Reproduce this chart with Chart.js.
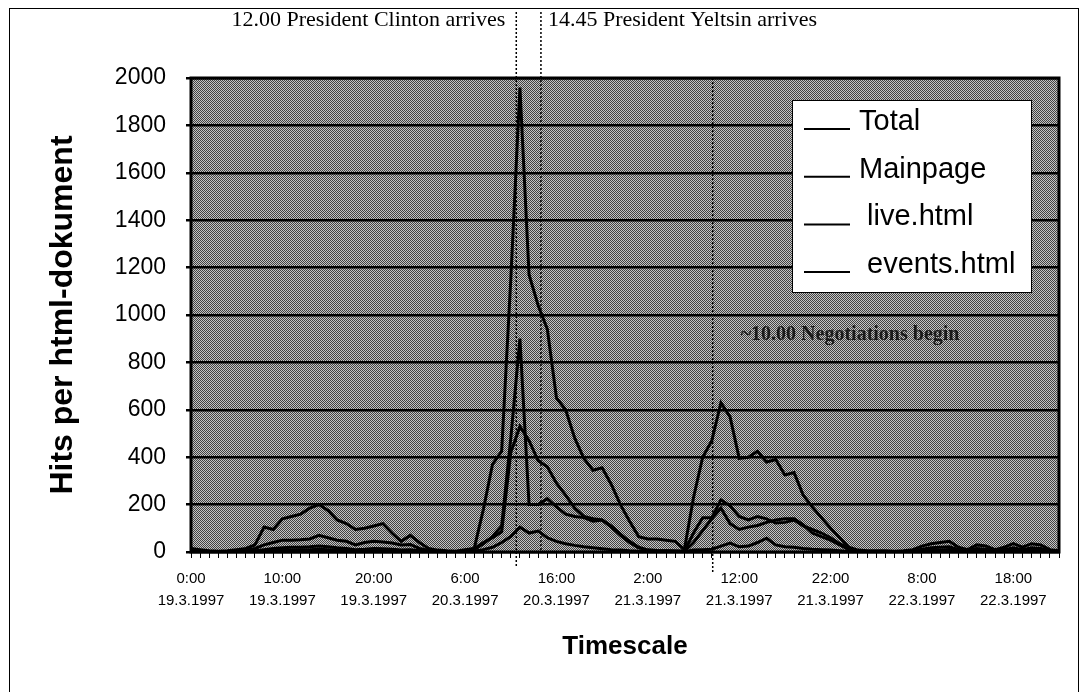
<!DOCTYPE html>
<html>
<head>
<meta charset="utf-8">
<script src="https://cdn.jsdelivr.net/npm/chart.js@4.4.1/dist/chart.umd.min.js"></script>
<style>
  html, body { margin: 0; padding: 0; background: #fff; }
  #wrap { width: 1084px; height: 692px; }
</style>
</head>
<body>
<div id="wrap"><canvas id="myChart" width="1084" height="692"></canvas></div>
<script>
// days covered by the log, one point per hour
const days = ['19.3.1997', '20.3.1997', '21.3.1997', '22.3.1997'];
const seriesNames = ['Total', 'Mainpage', ' live.html', ' events.html'];

const total = [
  15, 10, 5, 3, 5, 10, 15, 30, 105, 95, 140, 150, 160, 185, 200, 175, 135, 120, 95, 100, 110, 120, 80, 45,
  70, 40, 15, 8, 5, 3, 10, 15, 180, 370, 425, 1150, 1960, 1170, 1040, 940, 650, 600, 480, 395, 345, 355, 285, 200,
  130, 65, 55, 55, 50, 45, 10, 230, 400, 470, 630, 570, 395, 400, 425, 380, 390, 325, 335, 240, 190, 145, 100, 60,
  20, 8, 5, 5, 5, 3, 5, 10, 25, 35, 40, 45, 20, 10, 30, 25, 10, 20, 35, 20, 35, 30, 10, 5
];
const mainpage = [
  5, 3, 2, 2, 3, 5, 8, 15, 30, 40, 50, 50, 52, 55, 70, 60, 50, 45, 30, 40, 45, 42, 38, 30,
  32, 15, 8, 3, 2, 2, 5, 15, 40, 60, 85, 420, 530, 470, 385, 360, 290, 240, 185, 150, 140, 135, 110, 75,
  45, 20, 8, 6, 5, 4, 3, 80, 145, 145, 220, 195, 150, 135, 150, 140, 122, 125, 135, 110, 95, 80, 60, 35,
  15, 5, 3, 2, 2, 2, 3, 5, 12, 18, 20, 22, 10, 5, 15, 12, 5, 10, 18, 10, 18, 15, 5, 2
];
const live = [
  3, 2, 1, 1, 1, 2, 3, 5, 10, 15, 18, 20, 20, 22, 25, 22, 18, 15, 10, 12, 15, 14, 12, 8,
  10, 5, 3, 1, 1, 1, 3, 10, 35, 65, 110, 480, 900, 200, 200, 225, 190, 160, 150, 145, 130, 135, 105, 70,
  40, 18, 8, 6, 5, 4, 3, 40, 90, 140, 185, 120, 95, 105, 112, 125, 135, 140, 140, 115, 80, 65, 50, 30,
  10, 3, 2, 1, 1, 1, 2, 3, 5, 8, 8, 10, 4, 3, 6, 5, 2, 5, 8, 5, 8, 6, 2, 1
];
const eventsPage = [
  2, 1, 1, 0, 0, 1, 1, 2, 4, 5, 8, 8, 10, 10, 12, 10, 8, 6, 4, 5, 6, 6, 5, 3,
  4, 2, 1, 0, 0, 0, 1, 3, 10, 20, 40, 65, 105, 80, 88, 60, 45, 35, 28, 22, 18, 14, 10, 8,
  5, 3, 2, 2, 1, 1, 1, 8, 10, 12, 25, 38, 22, 25, 40, 58, 30, 22, 20, 15, 12, 10, 8, 5,
  2, 1, 1, 1, 1, 1, 1, 2, 3, 3, 4, 4, 2, 1, 3, 2, 1, 2, 3, 2, 3, 2, 1, 1
];

// marked moments (hour index on the time axis)
const markHours = [35.6, 38.3, 57.1];
const markTexts = ['12.00 President Clinton arrives', '14.45 President Yeltsin arrives', '~10.00 Negotiations begin'];

const yMax = 2000;
const yStep = 200;

// build the hourly categories
const hourLabels = [];
const dateLabels = [];
days.forEach(d => {
  for (let h = 0; h < 24; h++) {
    hourLabels.push(h + ':00');
    dateLabels.push(d);
  }
});

// halftone-like background of the plot area
function makePattern(ctx) {
  const c = document.createElement('canvas');
  c.width = 2; c.height = 2;
  const p = c.getContext('2d');
  p.fillStyle = '#c4c4c4';
  p.fillRect(0, 0, 2, 2);
  p.fillStyle = '#424242';
  p.fillRect(0, 0, 1, 1);
  p.fillRect(1, 1, 1, 1);
  return ctx.createPattern(c, 'repeat');
}

const backdrop = {
  id: 'backdrop',
  beforeDraw(chart) {
    const { ctx, chartArea: a } = chart;
    ctx.save();
    ctx.fillStyle = '#fff';
    ctx.fillRect(0, 0, chart.width, chart.height);
    ctx.strokeStyle = '#000';
    ctx.lineWidth = 1;
    ctx.strokeRect(9.5, 8.5, 1069, 720);
    ctx.fillStyle = makePattern(ctx);
    ctx.fillRect(a.left, a.top, a.right - a.left, a.bottom - a.top);
    ctx.restore();
  }
};

const extras = {
  id: 'extras',
  afterDatasetsDraw(chart) {
    const { ctx, chartArea: a, scales: { x } } = chart;
    ctx.save();
    // frame of plot area
    ctx.strokeStyle = '#000';
    ctx.lineWidth = 3;
    ctx.strokeRect(a.left, a.top, a.right - a.left, a.bottom - a.top);

    // dotted event lines
    ctx.lineWidth = 1.5;
    ctx.setLineDash([2, 2]);
    const x0 = x.getPixelForValue(markHours[0]);
    const x1 = x.getPixelForValue(markHours[1]);
    const x2 = x.getPixelForValue(markHours[2]);
    ctx.beginPath();
    ctx.moveTo(x0, 12); ctx.lineTo(x0, a.bottom + 14);
    ctx.moveTo(x1, 12); ctx.lineTo(x1, a.bottom);
    ctx.moveTo(x2, a.top); ctx.lineTo(x2, a.bottom + 22);
    ctx.stroke();
    ctx.setLineDash([]);

    ctx.fillStyle = '#000';
    ctx.font = '22px "Liberation Serif", "Times New Roman", serif';
    ctx.textBaseline = 'middle';
    ctx.textAlign = 'right';
    ctx.fillText(markTexts[0], x0 - 11, 20);
    ctx.textAlign = 'left';
    ctx.fillText(markTexts[1], x1 + 7, 20);
    ctx.fillStyle = '#1a1a1a';
    ctx.font = 'bold 20px "Liberation Serif", "Times New Roman", serif';
    ctx.fillText(markTexts[2], x2 + 28, a.top + 257);

    // legend box
    const lx = a.right - 267, ly = a.top + 22, lw = 239, lh = 192;
    ctx.fillStyle = '#fff';
    ctx.fillRect(lx, ly, lw, lh);
    ctx.lineWidth = 1;
    ctx.strokeStyle = '#000';
    ctx.strokeRect(lx + 0.5, ly + 0.5, lw, lh);
    ctx.font = '29px "Liberation Sans", Arial, sans-serif';
    ctx.textBaseline = 'alphabetic';
    ctx.textAlign = 'left';
    ctx.fillStyle = '#000';
    seriesNames.forEach((name, i) => {
      const by = ly + 30 + i * 47.7;
      ctx.lineWidth = 2;
      ctx.beginPath();
      ctx.moveTo(lx + 12, by - 1);
      ctx.lineTo(lx + 58, by - 1);
      ctx.stroke();
      ctx.fillText(name, lx + 67, by);
    });
    ctx.restore();
  }
};

const ctx = document.getElementById('myChart').getContext('2d');

new Chart(ctx, {
  type: 'line',
  data: {
    labels: hourLabels,
    datasets: [
      { label: seriesNames[0], data: total },
      { label: seriesNames[1], data: mainpage },
      { label: seriesNames[2], data: live },
      { label: seriesNames[3], data: eventsPage }
    ].map(ds => Object.assign(ds, {
      borderColor: '#000',
      backgroundColor: '#000',
      borderWidth: 3,
      pointRadius: 0,
      tension: 0,
      fill: false
    }))
  },
  options: {
    responsive: false,
    animation: false,
    layout: { padding: { left: 44, right: 25, top: 78, bottom: 12 } },
    plugins: {
      legend: { display: false },
      tooltip: { enabled: false }
    },
    scales: {
      x: {
        type: 'category',
        offset: false,
        afterFit(scale) { scale.height = 692 - 552 - 12; },
        border: { display: false },
        grid: {
          offset: false,
          drawOnChartArea: false,
          color: '#000',
          lineWidth: 1,
          tickLength: 6
        },
        ticks: {
          autoSkip: false,
          maxRotation: 0,
          minRotation: 0,
          padding: 10,
          color: '#000',
          font: { family: '"Liberation Sans", Arial, sans-serif', size: 15, lineHeight: 1.47 },
          callback: (v, i) => (i % 10 === 0 ? [hourLabels[i], dateLabels[i]] : '')
        },
        title: {
          display: true,
          text: 'Timescale',
          color: '#000',
          font: { family: '"Liberation Sans", Arial, sans-serif', size: 26, weight: 'bold' },
          padding: { top: 0, bottom: 18 }
        }
      },
      y: {
        min: 0,
        max: yMax,
        afterFit(scale) { scale.width = 191 - 44; },
        border: { display: false },
        grid: { color: '#000', lineWidth: 2.5, tickLength: 5 },
        ticks: {
          stepSize: yStep,
          padding: 20,
          color: '#000',
          font: { family: '"Liberation Sans", Arial, sans-serif', size: 23 },
          callback: v => String(v)
        },
        title: {
          display: true,
          text: 'Hits per html-dokument',
          color: '#000',
          font: { family: '"Liberation Sans", Arial, sans-serif', size: 32, weight: 'bold' },
          padding: { top: 0, bottom: 0 }
        }
      }
    }
  },
  plugins: [backdrop, extras]
});
</script>
</body>
</html>
